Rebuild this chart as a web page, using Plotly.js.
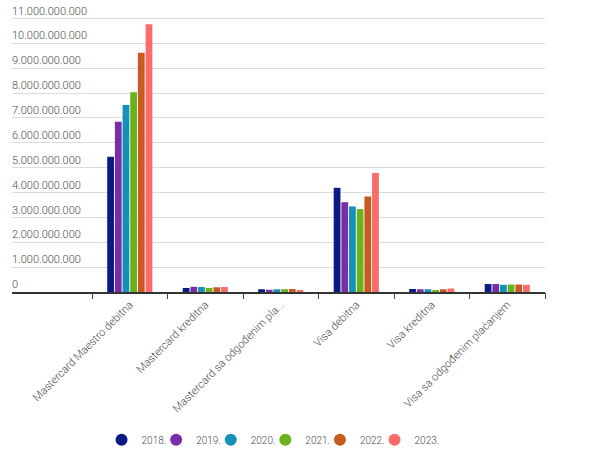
<!DOCTYPE html>
<html>
<head>
<meta charset="utf-8">
<script src="https://cdn.plot.ly/plotly-3.0.1.min.js"></script>
<style>html,body{margin:0;padding:0;background:#fff;}#chart{width:594px;height:467px;}</style>
</head>
<body>
<div id="chart"></div>
<script>
const categories = [
  "Mastercard Maestro debitna",
  "Mastercard kreditna",
  "Mastercard sa odgođenim plaćanjem",
  "Visa debitna",
  "Visa kreditna",
  "Visa sa odgođenim plaćanjem"
];
const tickLabels = [
  "Mastercard Maestro debitna",
  "Mastercard kreditna",
  "Mastercard sa odgođenim pla...",
  "Visa debitna",
  "Visa kreditna",
  "Visa sa odgođenim plaćanjem"
];
const years = ["2018.", "2019.", "2020.", "2021.", "2022.", "2023."];
const colors = ["#0b1a83", "#7a2da6", "#1590b6", "#69b21d", "#c95a1f", "#fd6a6a"];

const v2018 = [5440000000, 160000000, 110000000, 4190000000, 120000000, 320000000];
const v2019 = [6850000000, 210000000, 90000000, 3610000000, 110000000, 320000000];
const v2020 = [7520000000, 200000000, 110000000, 3440000000, 110000000, 290000000];
const v2021 = [8030000000, 160000000, 110000000, 3330000000, 80000000, 300000000];
const v2022 = [9620000000, 190000000, 120000000, 3840000000, 110000000, 300000000];
const v2023 = [10770000000, 200000000, 80000000, 4790000000, 140000000, 290000000];
const series = [v2018, v2019, v2020, v2021, v2022, v2023];

const yTickVals = [0,1e9,2e9,3e9,4e9,5e9,6e9,7e9,8e9,9e9,10e9,11e9];
const yTickText = ["0","1.000.000.000","2.000.000.000","3.000.000.000","4.000.000.000","5.000.000.000","6.000.000.000","7.000.000.000","8.000.000.000","9.000.000.000","10.000.000.000","11.000.000.000"];

const idx = categories.map((c, i) => i);
const traces = [];
series.forEach((vals, k) => {
  traces.push({
    type: "bar", x: idx, y: vals, name: years[k],
    marker: {color: colors[k]}, showlegend: false,
    hovertemplate: "%{y}<extra>" + years[k] + "</extra>"
  });
});
series.forEach((vals, k) => {
  traces.push({
    type: "scatter", mode: "markers", x: [null], y: [null], name: years[k],
    marker: {color: colors[k], size: 12, symbol: "circle"}, showlegend: true,
    legendwidth: k === series.length - 1 ? 30 : 9.6,
    hoverinfo: "skip"
  });
});

const fam = "Roboto, 'Liberation Sans', sans-serif";
const txtColor = "#4a4a4a";
const font = {family: fam, size: 11, color: txtColor, weight: 300};
const layout = {
  width: 594, height: 467,
  margin: {l: 12, r: 49, t: 6, b: 175},
  paper_bgcolor: "#fff", plot_bgcolor: "#fff",
  font: font,
  barmode: "group",
  bargap: 0.39,
  bargroupgap: 0.12,
  showlegend: true,
  legend: {
    orientation: "h", x: 0.168, xanchor: "left", y: -0.517, yanchor: "middle",
    font: {family: fam, size: 10, color: txtColor, weight: 300},
    traceorder: "normal"
  },
  xaxis: {
    type: "linear",
    range: [-1.56, 5.5],
    tickmode: "array", tickvals: idx, ticktext: tickLabels,
    tickangle: -45,
    showgrid: false, zeroline: false,
    showline: true, linecolor: "#333", linewidth: 2,
    ticks: "",
    tickfont: {family: fam, size: 11, color: txtColor, weight: 300},
    fixedrange: true
  },
  xaxis2: {
    overlaying: "x", matches: "x", range: [-1.56, 5.5],
    tickmode: "array", tickvals: [-0.5,0.5,1.5,2.5,3.5,4.5,5.5],
    ticks: "outside", ticklen: 6, tickcolor: "#444", tickwidth: 1,
    showticklabels: false, showgrid: false, zeroline: false, showline: false
  },
  yaxis: {
    range: [0, 11.5e9],
    tickmode: "array", tickvals: yTickVals, ticktext: yTickText,
    ticklabelposition: "inside top",
    ticklabeloverflow: "allow",
    ticklabelstandoff: -3,
    showgrid: true, gridcolor: "#dcdcdc", gridwidth: 1,
    zeroline: false, showline: false, ticks: "",
    tickfont: {family: fam, size: 11, color: txtColor, weight: 300},
    fixedrange: true
  }
};
traces.push({type: "scatter", x: [null], y: [null], xaxis: "x2", showlegend: false, hoverinfo: "skip"});
Plotly.newPlot("chart", traces, layout, {displayModeBar: false, staticPlot: true});
</script>
</body>
</html>
